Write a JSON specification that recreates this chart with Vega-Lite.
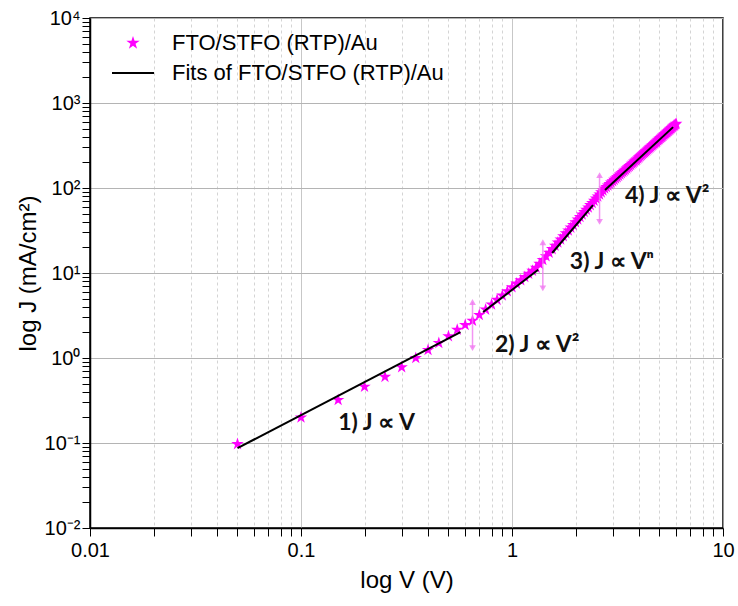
{
  "$schema": "https://vega.github.io/schema/vega-lite/v6.json",
  "width": 633,
  "height": 510,
  "autosize": {"type": "none"},
  "padding": {"left": 90, "top": 18, "right": 15, "bottom": 78},
  "config": {
    "font": "Liberation Sans",
    "view": {"stroke": "black", "strokeWidth": 1.5},
    "axis": {
      "domainColor": "black",
      "domainWidth": 1.5,
      "tickColor": "black",
      "tickWidth": 1,
      "labelColor": "black",
      "titleColor": "black",
      "labelFontSize": 20,
      "titleFontSize": 24,
      "titleFontWeight": "normal",
      "labelOverlap": false,
      "labelFlush": false
    },
    "legend": {
      "labelFontSize": 22,
      "labelColor": "black",
      "labelLimit": 400,
      "symbolSize": 196,
      "labelOffset": 28,
      "rowPadding": 8,
      "padding": 0
    }
  },
  "datasets": {
    "pts": [
      {"V": 0.05, "J": 0.097, "series": "FTO/STFO (RTP)/Au"},
      {"V": 0.1, "J": 0.2, "series": "FTO/STFO (RTP)/Au"},
      {"V": 0.15, "J": 0.32, "series": "FTO/STFO (RTP)/Au"},
      {"V": 0.2, "J": 0.46, "series": "FTO/STFO (RTP)/Au"},
      {"V": 0.25, "J": 0.6, "series": "FTO/STFO (RTP)/Au"},
      {"V": 0.3, "J": 0.78, "series": "FTO/STFO (RTP)/Au"},
      {"V": 0.35, "J": 1.0, "series": "FTO/STFO (RTP)/Au"},
      {"V": 0.4, "J": 1.24, "series": "FTO/STFO (RTP)/Au"},
      {"V": 0.45, "J": 1.5, "series": "FTO/STFO (RTP)/Au"},
      {"V": 0.5, "J": 1.8, "series": "FTO/STFO (RTP)/Au"},
      {"V": 0.55, "J": 2.15, "series": "FTO/STFO (RTP)/Au"},
      {"V": 0.6, "J": 2.45, "series": "FTO/STFO (RTP)/Au"},
      {"V": 0.65, "J": 2.75, "series": "FTO/STFO (RTP)/Au"},
      {"V": 0.7, "J": 3.21, "series": "FTO/STFO (RTP)/Au"},
      {"V": 0.75, "J": 3.71, "series": "FTO/STFO (RTP)/Au"},
      {"V": 0.8, "J": 4.25, "series": "FTO/STFO (RTP)/Au"},
      {"V": 0.85, "J": 4.83, "series": "FTO/STFO (RTP)/Au"},
      {"V": 0.9, "J": 5.45, "series": "FTO/STFO (RTP)/Au"},
      {"V": 0.95, "J": 6.1, "series": "FTO/STFO (RTP)/Au"},
      {"V": 1.0, "J": 6.8, "series": "FTO/STFO (RTP)/Au"},
      {"V": 1.05, "J": 7.5, "series": "FTO/STFO (RTP)/Au"},
      {"V": 1.1, "J": 8.23, "series": "FTO/STFO (RTP)/Au"},
      {"V": 1.15, "J": 8.99, "series": "FTO/STFO (RTP)/Au"},
      {"V": 1.2, "J": 9.79, "series": "FTO/STFO (RTP)/Au"},
      {"V": 1.25, "J": 10.6, "series": "FTO/STFO (RTP)/Au"},
      {"V": 1.3, "J": 11.5, "series": "FTO/STFO (RTP)/Au"},
      {"V": 1.35, "J": 12.8, "series": "FTO/STFO (RTP)/Au"},
      {"V": 1.4, "J": 14.2, "series": "FTO/STFO (RTP)/Au"},
      {"V": 1.45, "J": 15.7, "series": "FTO/STFO (RTP)/Au"},
      {"V": 1.5, "J": 17.3, "series": "FTO/STFO (RTP)/Au"},
      {"V": 1.55, "J": 19.1, "series": "FTO/STFO (RTP)/Au"},
      {"V": 1.6, "J": 20.9, "series": "FTO/STFO (RTP)/Au"},
      {"V": 1.65, "J": 22.8, "series": "FTO/STFO (RTP)/Au"},
      {"V": 1.7, "J": 24.8, "series": "FTO/STFO (RTP)/Au"},
      {"V": 1.75, "J": 27.0, "series": "FTO/STFO (RTP)/Au"},
      {"V": 1.8, "J": 29.3, "series": "FTO/STFO (RTP)/Au"},
      {"V": 1.85, "J": 31.7, "series": "FTO/STFO (RTP)/Au"},
      {"V": 1.9, "J": 34.2, "series": "FTO/STFO (RTP)/Au"},
      {"V": 1.95, "J": 36.8, "series": "FTO/STFO (RTP)/Au"},
      {"V": 2.0, "J": 39.6, "series": "FTO/STFO (RTP)/Au"},
      {"V": 2.05, "J": 42.5, "series": "FTO/STFO (RTP)/Au"},
      {"V": 2.1, "J": 45.5, "series": "FTO/STFO (RTP)/Au"},
      {"V": 2.15, "J": 48.7, "series": "FTO/STFO (RTP)/Au"},
      {"V": 2.2, "J": 52.1, "series": "FTO/STFO (RTP)/Au"},
      {"V": 2.25, "J": 55.5, "series": "FTO/STFO (RTP)/Au"},
      {"V": 2.3, "J": 59.1, "series": "FTO/STFO (RTP)/Au"},
      {"V": 2.35, "J": 62.9, "series": "FTO/STFO (RTP)/Au"},
      {"V": 2.4, "J": 66.8, "series": "FTO/STFO (RTP)/Au"},
      {"V": 2.45, "J": 70.9, "series": "FTO/STFO (RTP)/Au"},
      {"V": 2.5, "J": 75.1, "series": "FTO/STFO (RTP)/Au"},
      {"V": 2.55, "J": 79.5, "series": "FTO/STFO (RTP)/Au"},
      {"V": 2.6, "J": 84.1, "series": "FTO/STFO (RTP)/Au"},
      {"V": 2.65, "J": 88.8, "series": "FTO/STFO (RTP)/Au"},
      {"V": 2.7, "J": 93.7, "series": "FTO/STFO (RTP)/Au"},
      {"V": 2.75, "J": 98.8, "series": "FTO/STFO (RTP)/Au"},
      {"V": 2.8, "J": 102.9, "series": "FTO/STFO (RTP)/Au"},
      {"V": 2.85, "J": 107.1, "series": "FTO/STFO (RTP)/Au"},
      {"V": 2.9, "J": 111.3, "series": "FTO/STFO (RTP)/Au"},
      {"V": 2.95, "J": 115.7, "series": "FTO/STFO (RTP)/Au"},
      {"V": 3.0, "J": 120.1, "series": "FTO/STFO (RTP)/Au"},
      {"V": 3.05, "J": 124.7, "series": "FTO/STFO (RTP)/Au"},
      {"V": 3.1, "J": 129.3, "series": "FTO/STFO (RTP)/Au"},
      {"V": 3.15, "J": 134.0, "series": "FTO/STFO (RTP)/Au"},
      {"V": 3.2, "J": 138.9, "series": "FTO/STFO (RTP)/Au"},
      {"V": 3.25, "J": 143.8, "series": "FTO/STFO (RTP)/Au"},
      {"V": 3.3, "J": 148.8, "series": "FTO/STFO (RTP)/Au"},
      {"V": 3.35, "J": 153.9, "series": "FTO/STFO (RTP)/Au"},
      {"V": 3.4, "J": 159.1, "series": "FTO/STFO (RTP)/Au"},
      {"V": 3.45, "J": 164.4, "series": "FTO/STFO (RTP)/Au"},
      {"V": 3.5, "J": 169.8, "series": "FTO/STFO (RTP)/Au"},
      {"V": 3.55, "J": 175.3, "series": "FTO/STFO (RTP)/Au"},
      {"V": 3.6, "J": 180.9, "series": "FTO/STFO (RTP)/Au"},
      {"V": 3.65, "J": 186.6, "series": "FTO/STFO (RTP)/Au"},
      {"V": 3.7, "J": 192.4, "series": "FTO/STFO (RTP)/Au"},
      {"V": 3.75, "J": 198.3, "series": "FTO/STFO (RTP)/Au"},
      {"V": 3.8, "J": 204.3, "series": "FTO/STFO (RTP)/Au"},
      {"V": 3.85, "J": 210.4, "series": "FTO/STFO (RTP)/Au"},
      {"V": 3.9, "J": 216.6, "series": "FTO/STFO (RTP)/Au"},
      {"V": 3.95, "J": 222.8, "series": "FTO/STFO (RTP)/Au"},
      {"V": 4.0, "J": 229.2, "series": "FTO/STFO (RTP)/Au"},
      {"V": 4.05, "J": 235.7, "series": "FTO/STFO (RTP)/Au"},
      {"V": 4.1, "J": 242.3, "series": "FTO/STFO (RTP)/Au"},
      {"V": 4.15, "J": 249.0, "series": "FTO/STFO (RTP)/Au"},
      {"V": 4.2, "J": 255.8, "series": "FTO/STFO (RTP)/Au"},
      {"V": 4.25, "J": 262.6, "series": "FTO/STFO (RTP)/Au"},
      {"V": 4.3, "J": 269.6, "series": "FTO/STFO (RTP)/Au"},
      {"V": 4.35, "J": 276.7, "series": "FTO/STFO (RTP)/Au"},
      {"V": 4.4, "J": 283.9, "series": "FTO/STFO (RTP)/Au"},
      {"V": 4.45, "J": 291.2, "series": "FTO/STFO (RTP)/Au"},
      {"V": 4.5, "J": 298.7, "series": "FTO/STFO (RTP)/Au"},
      {"V": 4.55, "J": 306.1, "series": "FTO/STFO (RTP)/Au"},
      {"V": 4.6, "J": 313.8, "series": "FTO/STFO (RTP)/Au"},
      {"V": 4.65, "J": 321.4, "series": "FTO/STFO (RTP)/Au"},
      {"V": 4.7, "J": 329.3, "series": "FTO/STFO (RTP)/Au"},
      {"V": 4.75, "J": 337.1, "series": "FTO/STFO (RTP)/Au"},
      {"V": 4.8, "J": 345.2, "series": "FTO/STFO (RTP)/Au"},
      {"V": 4.85, "J": 353.4, "series": "FTO/STFO (RTP)/Au"},
      {"V": 4.9, "J": 361.6, "series": "FTO/STFO (RTP)/Au"},
      {"V": 4.95, "J": 369.9, "series": "FTO/STFO (RTP)/Au"},
      {"V": 5.0, "J": 378.3, "series": "FTO/STFO (RTP)/Au"},
      {"V": 5.05, "J": 387.0, "series": "FTO/STFO (RTP)/Au"},
      {"V": 5.1, "J": 395.6, "series": "FTO/STFO (RTP)/Au"},
      {"V": 5.15, "J": 404.3, "series": "FTO/STFO (RTP)/Au"},
      {"V": 5.2, "J": 413.2, "series": "FTO/STFO (RTP)/Au"},
      {"V": 5.25, "J": 422.2, "series": "FTO/STFO (RTP)/Au"},
      {"V": 5.3, "J": 431.3, "series": "FTO/STFO (RTP)/Au"},
      {"V": 5.35, "J": 440.5, "series": "FTO/STFO (RTP)/Au"},
      {"V": 5.4, "J": 449.7, "series": "FTO/STFO (RTP)/Au"},
      {"V": 5.45, "J": 459.2, "series": "FTO/STFO (RTP)/Au"},
      {"V": 5.5, "J": 468.6, "series": "FTO/STFO (RTP)/Au"},
      {"V": 5.55, "J": 478.3, "series": "FTO/STFO (RTP)/Au"},
      {"V": 5.6, "J": 488.1, "series": "FTO/STFO (RTP)/Au"},
      {"V": 5.65, "J": 497.9, "series": "FTO/STFO (RTP)/Au"},
      {"V": 5.7, "J": 507.9, "series": "FTO/STFO (RTP)/Au"},
      {"V": 5.75, "J": 517.9, "series": "FTO/STFO (RTP)/Au"},
      {"V": 5.8, "J": 528.1, "series": "FTO/STFO (RTP)/Au"},
      {"V": 5.85, "J": 538.4, "series": "FTO/STFO (RTP)/Au"},
      {"V": 5.9, "J": 548.8, "series": "FTO/STFO (RTP)/Au"},
      {"V": 5.95, "J": 559.3, "series": "FTO/STFO (RTP)/Au"},
      {"V": 6.0, "J": 570, "series": "FTO/STFO (RTP)/Au"}
    ],
    "fitlines": [
      {"seg": 1, "V": 0.05, "J": 0.087},
      {"seg": 1, "V": 0.57, "J": 2.02},
      {"seg": 2, "V": 0.73, "J": 3.48},
      {"seg": 2, "V": 1.33, "J": 10.9},
      {"seg": 3, "V": 1.55, "J": 17.2},
      {"seg": 3, "V": 2.42, "J": 63},
      {"seg": 4, "V": 2.76, "J": 94.5},
      {"seg": 4, "V": 5.8, "J": 520}
    ],
    "errs": [
      {"V": 0.65, "lo": 1.31, "hi": 4.56},
      {"V": 1.4, "lo": 6.6, "hi": 23},
      {"V": 2.6, "lo": 40, "hi": 142}
    ],
    "notes": [
      {"V": 0.15, "J": 0.172, "label": "1) J ∝ V"},
      {"V": 0.83, "J": 1.42, "label": "2) J ∝ V²"},
      {"V": 1.88, "J": 13.5, "label": "3) J ∝ Vⁿ"},
      {"V": 3.43, "J": 80.5, "label": "4) J ∝ V²"}
    ]
  },
  "layer": [
    {
      "data": {"name": "pts"},
      "mark": {"type": "point", "filled": true, "size": 170, "opacity": 1},
      "encoding": {
        "x": {
          "field": "V", "type": "quantitative",
          "scale": {"type": "log", "domain": [0.01, 10], "nice": false},
          "axis": {
            "title": "log V (V)",
            "values": [0.01, 0.02, 0.03, 0.04, 0.05, 0.06, 0.07, 0.08, 0.09, 0.1, 0.2, 0.3, 0.4, 0.5, 0.6, 0.7, 0.8, 0.9, 1, 2, 3, 4, 5, 6, 7, 8, 9, 10],
            "labelExpr": "datum.value==0.01?'0.01':datum.value==0.1?'0.1':datum.value==1?'1':datum.value==10?'10':''",
            "grid": true,
            "gridColor": {"condition": {"test": "datum.value==0.01||datum.value==0.1||datum.value==1||datum.value==10", "value": "#b4b4b4"}, "value": "#d4d4d4"},
            "gridDash": {"condition": {"test": "datum.value==0.01||datum.value==0.1||datum.value==1||datum.value==10", "value": [1, 0]}, "value": [3, 3]},
            "tickSize": 8,
            "labelPadding": 4,
            "titlePadding": 8,
            "encode": {
              "ticks": {"update": {"y2": {"signal": "(datum.value==0.01||datum.value==0.1||datum.value==1||datum.value==10) ? -8 : -4"}}}
            }
          }
        },
        "y": {
          "field": "J", "type": "quantitative",
          "scale": {"type": "log", "domain": [0.01, 10000], "nice": false},
          "axis": {
            "title": "log J (mA/cm²)",
            "values": [0.01, 0.02, 0.03, 0.04, 0.05, 0.06, 0.07, 0.08, 0.09, 0.1, 0.2, 0.3, 0.4, 0.5, 0.6, 0.7, 0.8, 0.9, 1, 2, 3, 4, 5, 6, 7, 8, 9, 10, 20, 30, 40, 50, 60, 70, 80, 90, 100, 200, 300, 400, 500, 600, 700, 800, 900, 1000, 2000, 3000, 4000, 5000, 6000, 7000, 8000, 9000, 10000],
            "labelExpr": "datum.value==0.01?'10⁻²':datum.value==0.1?'10⁻¹':datum.value==1?'10⁰':datum.value==10?'10¹':datum.value==100?'10²':datum.value==1000?'10³':datum.value==10000?'10⁴':''",
            "grid": true,
            "gridColor": "#b4b4b4",
            "gridOpacity": {"condition": {"test": "datum.value==0.01||datum.value==0.1||datum.value==1||datum.value==10||datum.value==100||datum.value==1000||datum.value==10000", "value": 1}, "value": 0},
            "tickSize": 8,
            "labelPadding": 2,
            "titlePadding": 4,
            "encode": {
              "ticks": {"update": {"x2": {"signal": "(datum.value==0.01||datum.value==0.1||datum.value==1||datum.value==10||datum.value==100||datum.value==1000||datum.value==10000) ? 8 : 4"}}}
            }
          }
        },
        "color": {
          "field": "series", "type": "nominal",
          "scale": {"domain": ["FTO/STFO (RTP)/Au", "Fits of FTO/STFO (RTP)/Au"], "range": ["#FF00FF", "#000000"]},
          "legend": {"title": null, "orient": "none", "legendX": 32, "legendY": 14, "labelLimit": 400}
        },
        "shape": {
          "field": "series", "type": "nominal",
          "scale": {"domain": ["FTO/STFO (RTP)/Au", "Fits of FTO/STFO (RTP)/Au"], "range": ["M0,-1L0.225,-0.309L0.951,-0.309L0.363,0.118L0.588,0.809L0,0.382L-0.588,0.809L-0.363,0.118L-0.951,-0.309L-0.225,-0.309Z", "M-3,-0.15L3,-0.15L3,0.15L-3,0.15Z"]},
          "legend": {"title": null, "orient": "none", "legendX": 32, "legendY": 14, "labelLimit": 400}
        }
      }
    },
    {
      "data": {"name": "errs"},
      "mark": {"type": "rule", "color": "#F07AF0", "strokeWidth": 1.5, "opacity": 0.8},
      "encoding": {
        "x": {"field": "V", "type": "quantitative"},
        "y": {"field": "lo", "type": "quantitative"},
        "y2": {"field": "hi"}
      }
    },
    {
      "data": {"name": "errs"},
      "mark": {"type": "point", "shape": "triangle-up", "filled": true, "size": 45, "color": "#F07AF0", "opacity": 0.8},
      "encoding": {
        "x": {"field": "V", "type": "quantitative"},
        "y": {"field": "hi", "type": "quantitative"}
      }
    },
    {
      "data": {"name": "errs"},
      "mark": {"type": "point", "shape": "triangle-down", "filled": true, "size": 45, "color": "#F07AF0", "opacity": 0.8},
      "encoding": {
        "x": {"field": "V", "type": "quantitative"},
        "y": {"field": "lo", "type": "quantitative"}
      }
    },
    {
      "data": {"name": "fitlines"},
      "mark": {"type": "line", "color": "black", "strokeWidth": 2},
      "encoding": {
        "x": {"field": "V", "type": "quantitative"},
        "y": {"field": "J", "type": "quantitative"},
        "detail": {"field": "seg", "type": "nominal"}
      }
    },
    {
      "data": {"name": "notes"},
      "mark": {"type": "text", "align": "left", "baseline": "middle", "font": "Lato", "fontWeight": "bold", "fontSize": 23, "color": "#111111"},
      "encoding": {
        "x": {"field": "V", "type": "quantitative"},
        "y": {"field": "J", "type": "quantitative"},
        "text": {"field": "label", "type": "nominal"}
      }
    }
  ]
}
